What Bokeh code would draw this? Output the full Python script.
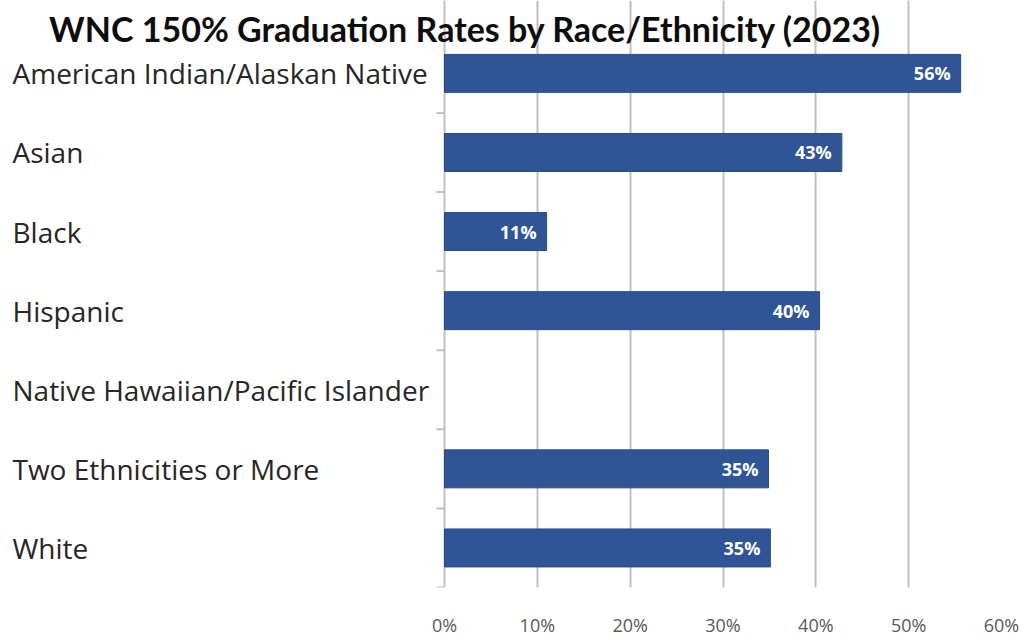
import math
from bokeh.plotting import figure
from bokeh.models import ColumnDataSource, Range1d, FixedTicker, NumeralTickFormatter
from bokeh.core.properties import value
from bokeh.embed import file_html
from bokeh.resources import INLINE

title = "WNC 150% Graduation Rates by Race/Ethnicity (2023)"
categories = ["American Indian/Alaskan Native", "Asian", "Black", "Hispanic",
              "Native Hawaiian/Pacific Islander", "Two Ethnicities or More", "White"]
rates = [0.556, 0.428, 0.110, 0.404, None, 0.349, 0.351]
x_ticks = [0.0, 0.1, 0.2, 0.3, 0.4, 0.5, 0.6]

BAR = "#2F5597"
GRID = "#bfbfbf"
N = len(categories)
XMAX = x_ticks[-1]

# layout (pixels on the canvas)
W, H = 1020, 639
PX_ZERO, PX_MAX = 444, 1001      # x pixel of 0% and of 60%
PY_TOP, PY_BOT = 34, 599         # y pixel of top and bottom of the category band

ux = XMAX / (PX_MAX - PX_ZERO)   # data units per pixel (x)
uy = N / (PY_BOT - PY_TOP)       # data units per pixel (y)
x_start = -PX_ZERO * ux
y_end = N + PY_TOP * uy

p = figure(width=W, height=H, output_backend="svg", toolbar_location=None,
           x_range=Range1d(x_start, XMAX), y_range=Range1d(0, y_end),
           y_axis_location=None,
           min_border_left=0, min_border_right=W - PX_MAX, min_border_top=0,
           min_border_bottom=H - PY_BOT)
p.outline_line_color = None
p.background_fill_color = "white"
p.border_fill_color = "white"

# slot centres: first category on top
pos = [N - i - 0.5 for i in range(N)]

# grid (only over the category band)
p.xgrid.ticker = FixedTicker(ticks=x_ticks)
p.xgrid.bounds = (0, N)
p.xgrid.grid_line_color = GRID
p.xgrid.grid_line_width = 2
p.ygrid.grid_line_color = None

# category boundary ticks on the value axis
p.ray(x=[0] * N, y=list(range(N)), length=8, length_units="screen", angle=math.pi,
      line_color=GRID, line_width=2)

# bars
bar_pos = [y for y, r in zip(pos, rates) if r is not None]
bar_vals = [r for r in rates if r is not None]
bar_labels = [f"{round(r * 100)}%" for r in bar_vals]
src = ColumnDataSource(dict(y=bar_pos, val=bar_vals, lab=bar_labels))
p.hbar(y="y", right="val", left=0, height=0.48, source=src,
       fill_color=BAR, line_color="#284a88", line_width=1)
p.text(x="val", y="y", text="lab", source=src, x_offset=-10,
       text_align="right", text_baseline="middle", text_color="white",
       text_font=value("Open Sans"), text_font_style="bold", text_font_size="18px")

# category labels, left aligned
csrc = ColumnDataSource(dict(y=pos, cat=categories, x=[x_start] * N))
p.text(x="x", y="y", text="cat", source=csrc, x_offset=12,
       text_align="left", text_baseline="middle", text_color="#262626",
       text_font=value("Open Sans"), text_font_size="28px")

# title
p.text(x=[0], y=[y_end], text=[title], x_offset=21, y_offset=28,
       text_align="center", text_baseline="middle", text_color="#0d0d0d",
       text_font=value("Lato"), text_font_style="bold", text_font_size="34px")

# x axis
xa = p.xaxis[0]
xa.ticker = FixedTicker(ticks=x_ticks)
xa.formatter = NumeralTickFormatter(format="0%")
xa.axis_line_color = None
xa.major_tick_line_color = None
xa.minor_tick_line_color = None
xa.major_label_text_color = "#595959"
xa.major_label_text_font = "Open Sans"
xa.major_label_text_font_size = "18px"
xa.major_label_standoff = 19

open("out.html", "w").write(file_html(p, INLINE))
